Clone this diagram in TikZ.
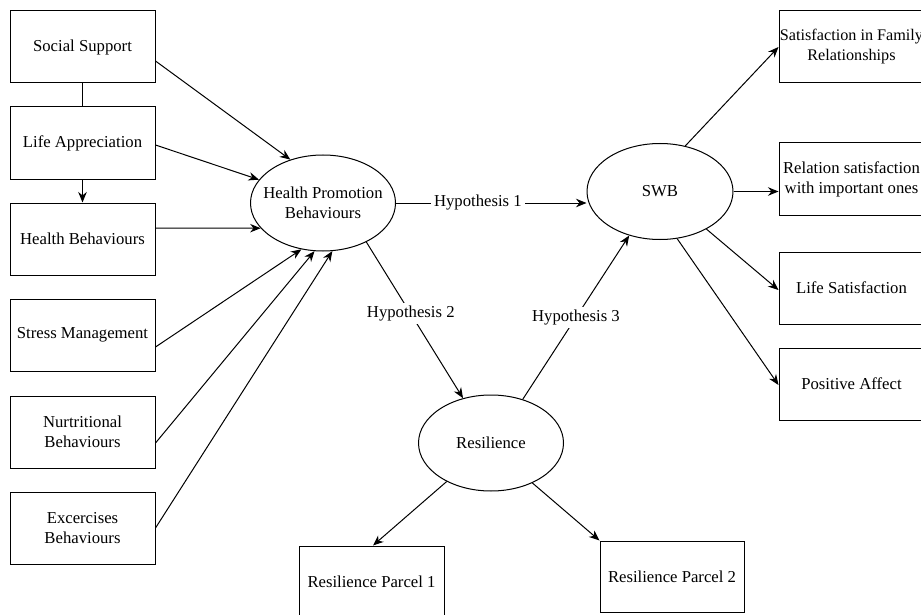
\documentclass[tikz,border=0pt]{standalone}
\usepackage{fontspec}
\setmainfont{Liberation Serif}
\usetikzlibrary{shapes.geometric,arrows.meta}
\begin{document}
\begin{tikzpicture}[x=1pt,y=-1pt,
  every node/.style={font=\fontsize{16.7}{20}\selectfont},
  box/.style={draw,line width=1pt,rectangle,minimum width=145pt,minimum height=72pt,inner sep=0pt,align=center},
  latent/.style={draw,line width=1pt,ellipse,minimum width=145pt,minimum height=96pt,inner sep=0pt},
  every label/.style={align=center,font=\fontsize{16.7}{20}\selectfont,inner sep=0pt},
  conn/.style={line width=1pt,-{Stealth[length=10.5pt,width=8.5pt]}},
  plain/.style={line width=1pt},
  hyp/.style={fill=white,inner sep=3pt}]
\useasboundingbox (0,0) rectangle (921,615);
\fill[white] (0,0) rectangle (921,615);
\clip (0,0) rectangle (921,615);

% left boxes
\node[box] (ss) at (82.5,47) {Social Support};
\node[box] (la) at (82.5,143) {Life Appreciation};
\node[box] (hb) at (82.5,239) {Health Behaviours};
\node[box] (sm) at (82.5,335) {Stress Management};
\node[box] (nb) at (82.5,432) {Nurtritional\\Behaviours};
\node[box] (eb) at (82.5,528) {Excercises\\Behaviours};

% latent variables
\node[latent,label={center:{Health Promotion\\Behaviours}}] (hpb) at (323,203) {};
\node[latent,minimum width=146pt,label={center:SWB}] (swb) at (660,191.5) {};
\node[latent,label={center:Resilience}] (res) at (491,443) {};

% right boxes
\node[box,font=\fontsize{16.2}{20}\selectfont] (r1) at (851.5,47) {Satisfaction in Family\\Relationships};
\node[box] (r2) at (851.5,179) {Relation satisfaction\\with important ones};
\node[box] (r3) at (851.5,288) {Life Satisfaction};
\node[box] (r4) at (851.5,384) {Positive Affect};

% bottom boxes
\node[box] (p1) at (371.5,582) {Resilience Parcel 1};
\node[box,minimum width=144pt,minimum height=71pt] (p2) at (672,576.5) {Resilience Parcel 2};

% left side connectors
\draw[plain] (ss.south) -- (la.north);
\draw[conn] (la.south) -- (hb.north);
\draw[conn] ([yshift=-14pt]ss.east) -- (hpb.127.5);
\draw[conn] ([yshift=-2pt]la.east) -- (hpb.160);
\draw[conn] ([yshift=11pt]hb.east) -- (hpb.202);
\draw[conn] ([yshift=-12pt]sm.east) -- (hpb.245);
\draw[conn] ([yshift=-11pt]nb.east) -- (hpb.260.7);
\draw[conn] (eb.east) -- (hpb.281.3);

% hypotheses
\draw[conn] (hpb.east) -- node[hyp,pos=0.43] {Hypothesis 1} (hpb.east -| swb.west);
\draw[conn] (hpb.318) -- node[hyp,pos=0.46] {Hypothesis 2} (res.122);
\draw[conn] (res.54) -- node[hyp,pos=0.5] {Hypothesis 3} (swb.235.5);

% SWB indicators
\draw[conn] (swb.61.7) -- (r1.west);
\draw[conn] (swb.east) -- (swb.east -| r2.west);
\draw[conn] (swb.321.4) -- ([yshift=-2pt]r3.west);
\draw[conn] (swb.290) -- ([yshift=-1pt]r4.west);

% resilience indicators
\draw[conn] (res.221.6) -- ([xshift=1.5pt]p1.north);
\draw[conn] (res.316) -- (p2.north west);
\end{tikzpicture}
\end{document}
